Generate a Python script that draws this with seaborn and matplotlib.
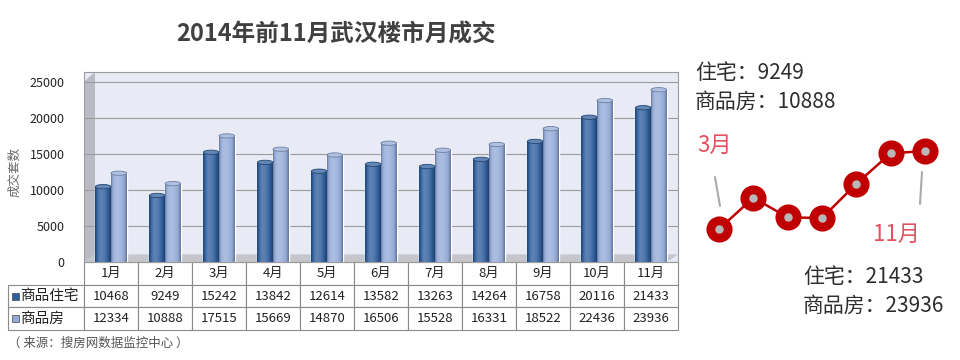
import numpy as np
import pandas as pd
import matplotlib
matplotlib.use("Agg")
from matplotlib import pyplot as plt
from matplotlib.patches import Rectangle, Ellipse, Polygon
from matplotlib.lines import Line2D
from matplotlib.colors import to_rgb
import seaborn as sns

# datos
meses = ["1月", "2月", "3月", "4月", "5月", "6月", "7月", "8月", "9月", "10月", "11月"]
zhuzhai = [10468, 9249, 15242, 13842, 12614, 13582, 13263, 14264, 16758, 20116, 21433]
shangpinfang = [12334, 10888, 17515, 15669, 14870, 16506, 15528, 16331, 18522, 22436, 23936]
series = ["商品住宅", "商品房"]
colores = ["#2f5e9c", "#93aad8"]
# linea decorativa de la derecha (escala relativa)
spark_vals = [0, 40, 15, 14, 58, 97, 100]

sns.set_style("white")
plt.rcParams['font.family'] = ['Noto Sans CJK SC', 'DejaVu Sans']

df = pd.DataFrame({
    "月份": meses * 2,
    "套数": zhuzhai + shangpinfang,
    "类型": [series[0]] * len(meses) + [series[1]] * len(meses),
})

W, H = 960, 360
fig = plt.figure(figsize=(W / 100, H / 100), dpi=100)


def caja(l, t, r, b):
    return [l / W, 1 - b / H, (r - l) / W, (b - t) / H]


def fy(y):
    return 1 - y / H


# grafico de barras principal
ax = fig.add_axes(caja(84, 72, 678, 262))
sns.barplot(data=df, x="月份", y="套数", hue="类型", palette=colores, width=0.58,
            saturation=1, errorbar=None, legend=False, ax=ax)

barras = list(ax.patches)
t = np.linspace(0, 1, 40)
s = np.where(t < 0.35, 1 - 2 * ((t - 0.35) / 0.35) ** 2, 1 - 2 * ((t - 0.35) / 0.65) ** 2)
for p in barras:
    base = np.array(to_rgb(p.get_facecolor()))
    oscuro = np.clip(-s, 0, 1)[:, None]
    claro = np.clip(s, 0, 1)[:, None]
    c = base * (1 - 0.3 * oscuro)
    c = c + (1 - c) * claro * 0.22
    x0, w, h = p.get_x(), p.get_width(), p.get_height()
    im = ax.imshow(c[None, :, :], extent=[x0, x0 + w, 0, h], aspect='auto',
                   interpolation='bilinear', zorder=p.get_zorder() + 0.1)
    im.set_clip_path(p)
    tapa = base + (1 - base) * 0.25
    ax.add_patch(Ellipse((x0 + w / 2, h), w, 600, facecolor=tapa,
                         edgecolor=base * 0.75, lw=0.6, zorder=p.get_zorder() + 0.2))

ax.set_xlim(-0.5, len(meses) - 0.5)
ax.set_ylim(0, 26400)
ax.set_facecolor("#e8ebf5")
ax.set_axisbelow(True)
ax.yaxis.grid(True, color="#9c9c9c", lw=0.8)
ax.set_yticks(range(0, 25001, 5000))
ax.tick_params(axis='y', labelsize=9, pad=14, length=0, labelcolor="#222222")
ax.tick_params(axis='x', length=0, labelbottom=False)
ax.set_xlabel("")
ax.set_ylabel("")
for sp in ax.spines.values():
    sp.set_color("#9c9c9c")
    sp.set_linewidth(0.8)

# paredes "3D"
ax.add_patch(Polygon([(0, 0), (0, 0.95), (11 / 594, 1), (11 / 594, 0.04)], closed=True,
                     transform=ax.transAxes, facecolor="#b8bbc3", edgecolor="none", zorder=0.5))
ax.add_patch(Polygon([(0, 0), (1 - 11 / 594, 0), (1, 0.04), (11 / 594, 0.04)], closed=True,
                     transform=ax.transAxes, facecolor="#c4c6cc", edgecolor="none", zorder=0.5))

# tabla de datos
celdas = [[""] + meses,
          [series[0]] + [str(v) for v in zhuzhai],
          [series[1]] + [str(v) for v in shangpinfang]]
tabla = ax.table(cellText=celdas, cellLoc='center', colWidths=[76] + [54] * len(meses),
                 bbox=[-76 / 594, -68 / 190, 670 / 594, 68 / 190])
tabla.auto_set_font_size(False)
tabla.set_fontsize(9.5)
for (r, c), cell in tabla.get_celld().items():
    cell.set_edgecolor("#8a8a8a")
    cell.set_linewidth(0.8)
    cell.get_text().set_color("#222222")
    if c == 0:
        cell._loc = 'left'
        cell.PAD = 0.16
        cell.get_text().set_fontsize(10.5)
        cell.get_text().set_ha('left')
if (0, 0) in tabla.get_celld():
    tabla[(0, 0)].visible_edges = ''

for yc, col in zip([296, 318], colores):
    fig.add_artist(Rectangle((12 / W, fy(yc + 3.5)), 7 / W, 7 / H, transform=fig.transFigure,
                             facecolor=col, edgecolor="#444444", lw=0.5))

# textos
fig.text(336 / W, fy(35), "2014年前11月武汉楼市月成交", ha='center', va='center',
         fontsize=17, fontweight='bold', color="#404040")
fig.text(15 / W, fy(172), "成交套数", rotation=90, ha='center', va='center',
         fontsize=9, color="#666666")
fig.text(8 / W, fy(343), "（ 来源：搜房网数据监控中心 ）", ha='left', va='center',
         fontsize=9, color="#555555")

# linea decorativa
ax2 = fig.add_axes(caja(719, 151, 925, 229))
sns.lineplot(x=list(range(len(spark_vals))), y=spark_vals, ax=ax2, color="#c00000", lw=1.8,
             marker='o', markersize=12.5, markeredgecolor="#c00000", markeredgewidth=6.3,
             markerfacecolor="#b8b8b8", clip_on=False)
ax2.set_xlim(0, len(spark_vals) - 1)
ax2.set_ylim(0, 100)
ax2.axis('off')

fig.add_artist(Line2D([715 / W, 720 / W], [fy(177), fy(206)], color="#aaaaaa", lw=1.5))
fig.add_artist(Line2D([922 / W, 920 / W], [fy(172), fy(204)], color="#aaaaaa", lw=1.5))

gris = "#2e2e2e"
rojo = "#e4505e"
fig.text(695 / W, fy(73), "住宅：9249", ha='left', va='center', fontsize=15, color=gris)
fig.text(695 / W, fy(102), "商品房：10888", ha='left', va='center', fontsize=15, color=gris)
fig.text(697 / W, fy(145), "3月", ha='left', va='center', fontsize=16, color=rojo)
fig.text(873 / W, fy(234), "11月", ha='left', va='center', fontsize=16, color=rojo)
fig.text(803 / W, fy(277), "住宅：21433", ha='left', va='center', fontsize=15, color=gris)
fig.text(803 / W, fy(306), "商品房：23936", ha='left', va='center', fontsize=15, color=gris)

fig.savefig("out.png", dpi=100)
